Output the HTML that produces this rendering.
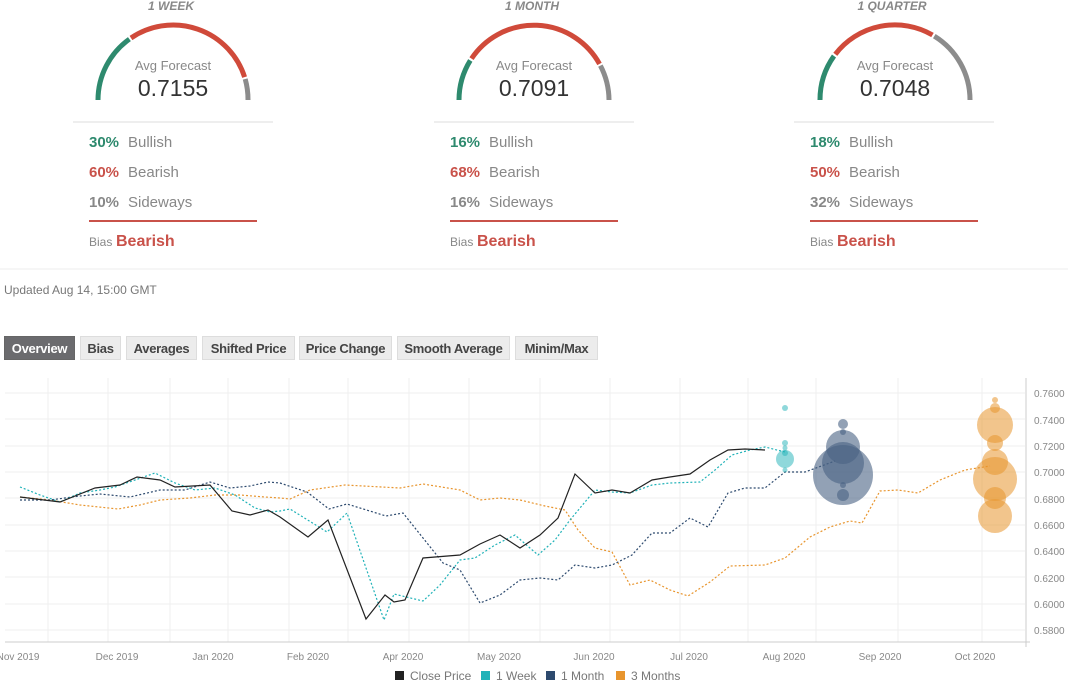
<!DOCTYPE html>
<html><head><meta charset="utf-8"><style>
body{margin:0;background:#fff;width:1068px;height:683px;overflow:hidden;font-family:"Liberation Sans",sans-serif;position:relative}
.tab{position:absolute;top:336px;height:24px;line-height:24px;background:#ececec;border:1px solid #ddd;font-size:13px;font-weight:bold;color:#444;text-align:center;box-sizing:border-box;letter-spacing:-0.3px}
</style></head><body>
<svg width="1068" height="683" style="position:absolute;left:0;top:0" font-family="Liberation Sans, sans-serif">
<g fill="none" stroke-width="5">
<path d="M98,100 A75,75 0 0 1 129.4,39.1" stroke="#2e8a6e"/>
<path d="M131,38 A75,75 0 0 1 244.6,77.1" stroke="#d04a3a"/>
<path d="M245.2,79 A75,75 0 0 1 248,100" stroke="#8c8c8c"/>
<path d="M459,100 A75,75 0 0 1 470.3,60.4" stroke="#2e8a6e"/>
<path d="M471.5,58.6 A75,75 0 0 1 599.5,63.9" stroke="#d04a3a"/>
<path d="M600.4,65.6 A75,75 0 0 1 609,100" stroke="#8c8c8c"/>
<path d="M820,100 A75,75 0 0 1 834,56" stroke="#2e8a6e"/>
<path d="M835.3,54.3 A75,75 0 0 1 932.5,35" stroke="#d04a3a"/>
<path d="M934.3,36.1 A75,75 0 0 1 970,100" stroke="#8c8c8c"/>
</g>
<g font-size="12" fill="#888" font-style="italic" font-weight="bold" text-anchor="middle">
<text x="171" y="10">1 WEEK</text><text x="532" y="10">1 MONTH</text><text x="892" y="10">1 QUARTER</text></g>
<g font-size="13" fill="#888" text-anchor="middle">
<text x="173" y="70">Avg Forecast</text><text x="534" y="70">Avg Forecast</text><text x="895" y="70">Avg Forecast</text></g>
<g font-size="23" fill="#333" text-anchor="middle">
<text x="173" y="96">0.7155</text><text x="534" y="96">0.7091</text><text x="895" y="96">0.7048</text></g>
<g stroke="#ddd"><line x1="73" y1="122" x2="273" y2="122"/><line x1="434" y1="122" x2="634" y2="122"/><line x1="794" y1="122" x2="994" y2="122"/>
<line x1="0" y1="269" x2="1068" y2="269" stroke="#eee"/></g>
<g stroke="#c9524a" stroke-width="2"><line x1="89" y1="221" x2="257" y2="221"/><line x1="450" y1="221" x2="618" y2="221"/><line x1="810" y1="221" x2="978" y2="221"/></g>
<g font-size="15">
<g font-weight="bold"><text x="89" y="147" fill="#2e8a6e">30%</text><text x="89" y="177" fill="#c9524a">60%</text><text x="89" y="207" fill="#888">10%</text>
<text x="450" y="147" fill="#2e8a6e">16%</text><text x="450" y="177" fill="#c9524a">68%</text><text x="450" y="207" fill="#888">16%</text>
<text x="810" y="147" fill="#2e8a6e">18%</text><text x="810" y="177" fill="#c9524a">50%</text><text x="810" y="207" fill="#888">32%</text></g>
<g fill="#888"><text x="128" y="147">Bullish</text><text x="128" y="177">Bearish</text><text x="128" y="207">Sideways</text>
<text x="489" y="147">Bullish</text><text x="489" y="177">Bearish</text><text x="489" y="207">Sideways</text>
<text x="849" y="147">Bullish</text><text x="849" y="177">Bearish</text><text x="849" y="207">Sideways</text></g>
</g>
<g font-size="12" fill="#888"><text x="89" y="246">Bias</text><text x="450" y="246">Bias</text><text x="810" y="246">Bias</text></g>
<g font-size="16" font-weight="bold" fill="#c9524a"><text x="116" y="246">Bearish</text><text x="477" y="246">Bearish</text><text x="837" y="246">Bearish</text></g>
<text x="4" y="294" font-size="12" fill="#777">Updated Aug 14, 15:00 GMT</text>

<g stroke="#efefef">
<line x1="5" y1="393" x2="1025" y2="393"/><line x1="5" y1="419" x2="1025" y2="419"/><line x1="5" y1="446" x2="1025" y2="446"/><line x1="5" y1="472" x2="1025" y2="472"/><line x1="5" y1="498" x2="1025" y2="498"/><line x1="5" y1="525" x2="1025" y2="525"/><line x1="5" y1="551" x2="1025" y2="551"/><line x1="5" y1="577" x2="1025" y2="577"/><line x1="5" y1="604" x2="1025" y2="604"/><line x1="5" y1="630" x2="1025" y2="630"/>
<line x1="48" y1="378" x2="48" y2="642"/><line x1="108" y1="378" x2="108" y2="642"/><line x1="170" y1="378" x2="170" y2="642"/><line x1="228" y1="378" x2="228" y2="642"/><line x1="289" y1="378" x2="289" y2="642"/><line x1="348" y1="378" x2="348" y2="642"/><line x1="409" y1="378" x2="409" y2="642"/><line x1="469" y1="378" x2="469" y2="642"/><line x1="540" y1="378" x2="540" y2="642"/><line x1="610" y1="378" x2="610" y2="642"/><line x1="680" y1="378" x2="680" y2="642"/><line x1="748" y1="378" x2="748" y2="642"/><line x1="816" y1="378" x2="816" y2="642"/><line x1="898" y1="378" x2="898" y2="642"/><line x1="982" y1="378" x2="982" y2="642"/>
</g>
<line x1="5" y1="642" x2="1030" y2="642" stroke="#ccc"/>
<line x1="1026" y1="378" x2="1026" y2="647" stroke="#ccc"/>
<g font-size="10" fill="#888">
<text x="1034" y="397">0.7600</text><text x="1034" y="424">0.7400</text><text x="1034" y="450">0.7200</text><text x="1034" y="476">0.7000</text><text x="1034" y="503">0.6800</text><text x="1034" y="529">0.6600</text><text x="1034" y="555">0.6400</text><text x="1034" y="582">0.6200</text><text x="1034" y="608">0.6000</text><text x="1034" y="634">0.5800</text>
</g>
<g font-size="10" fill="#888" text-anchor="middle">
<text x="18" y="660">Nov 2019</text><text x="117" y="660">Dec 2019</text><text x="213" y="660">Jan 2020</text><text x="308" y="660">Feb 2020</text><text x="403" y="660">Apr 2020</text><text x="499" y="660">May 2020</text><text x="594" y="660">Jun 2020</text><text x="689" y="660">Jul 2020</text><text x="784" y="660">Aug 2020</text><text x="880" y="660">Sep 2020</text><text x="975" y="660">Oct 2020</text>
</g>
<g fill="none" stroke-width="1.2">
<polyline stroke="#e8952e" stroke-dasharray="2,2" points="20,497 50,500 80,505 118,509 140,505 160,500 190,498 215,495 240,495 265,497 280,498 290,499 310,490 345,485 400,488 423,484 460,490 480,500 500,498 520,500 545,506 565,510 578,530 595,548 612,552 630,585 650,580 670,590 688,596 710,582 730,566 765,565 785,558 810,537 830,527 850,521 862,523 880,491 898,490 918,493 940,480 965,470 990,466"/>
<polyline stroke="#2d4a6e" stroke-dasharray="2,2" points="20,500 50,500 80,496 100,494 130,497 160,490 185,490 210,482 230,488 250,486 268,482 280,483 307,492 329,509 347,504 386,516 403,513 443,563 460,570 480,603 500,595 520,580 540,578 558,580 575,565 595,568 612,565 632,555 652,533 670,533 690,518 708,527 728,493 745,488 765,488 785,472 805,472 835,461"/>
<polyline stroke="#20b2b8" stroke-dasharray="2,2" points="20,487 40,495 60,502 80,493 100,490 115,487 135,480 155,473 175,483 195,490 215,488 235,495 255,508 270,512 280,511 290,509 327,532 347,513 384,620 394,594 423,601 440,585 460,560 475,558 495,545 515,535 538,555 555,540 570,520 595,490 612,492 630,493 652,485 670,483 700,482 715,470 732,455 750,450 765,447 785,452"/>
<polyline stroke="#222" points="20,497 60,502 95,488 120,485 137,477 160,480 175,487 210,485 232,511 250,515 268,510 280,517 308,537 328,520 366,619 385,595 394,602 405,600 423,558 460,555 480,544 500,535 520,548 540,535 558,518 575,474 595,493 612,490 630,493 652,480 670,477 690,474 710,460 728,450 745,449 765,450"/>
</g>
<g fill="#20b2b8" fill-opacity="0.5">
<circle cx="785" cy="459" r="9"/><circle cx="785" cy="408" r="3"/><circle cx="785" cy="443" r="3"/><circle cx="785" cy="448" r="2.5"/><circle cx="785" cy="453" r="3"/><circle cx="785" cy="470" r="2.5"/>
</g>
<g fill="#4a6283" fill-opacity="0.6">
<circle cx="843" cy="475" r="30"/><circle cx="843" cy="463" r="21"/><circle cx="843" cy="447" r="17"/><circle cx="843" cy="424" r="5"/><circle cx="843" cy="432" r="3"/><circle cx="843" cy="485" r="3"/><circle cx="843" cy="495" r="6"/>
</g>
<g fill="#e8952e" fill-opacity="0.55">
<circle cx="995" cy="425" r="18"/><circle cx="995" cy="479" r="22"/><circle cx="995" cy="516" r="17"/><circle cx="995" cy="462" r="13"/><circle cx="995" cy="498" r="11"/><circle cx="995" cy="443" r="8"/><circle cx="995" cy="408" r="5"/><circle cx="995" cy="400" r="3"/>
</g>
<g font-size="12" fill="#777">
<rect x="395" y="671" width="9" height="9" fill="#222"/><text x="410" y="680">Close Price</text>
<rect x="481" y="671" width="9" height="9" fill="#20b2b8"/><text x="496" y="680">1 Week</text>
<rect x="546" y="671" width="9" height="9" fill="#2d4a6e"/><text x="561" y="680">1 Month</text>
<rect x="616" y="671" width="9" height="9" fill="#e8952e"/><text x="631" y="680">3 Months</text>
</g>
</svg>
<div class="tab" style="left:4px;width:71px;background:#6b6b6e;color:#fff;border-color:#666">Overview</div>
<div class="tab" style="left:80px;width:41px">Bias</div>
<div class="tab" style="left:126px;width:71px">Averages</div>
<div class="tab" style="left:202px;width:93px">Shifted Price</div>
<div class="tab" style="left:299px;width:93px">Price Change</div>
<div class="tab" style="left:397px;width:113px">Smooth Average</div>
<div class="tab" style="left:515px;width:83px">Minim/Max</div>
</body></html>
